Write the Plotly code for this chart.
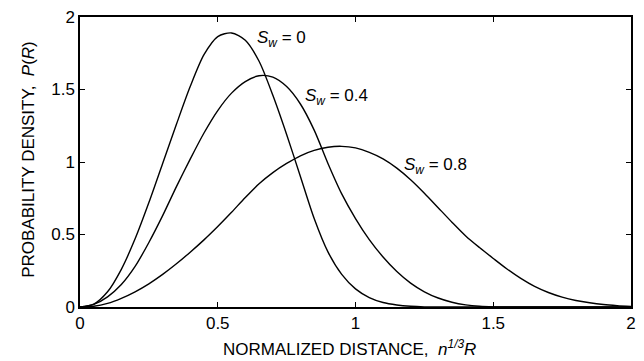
import plotly.graph_objects as go

# Normalized distance grid (x values)
x_vals = [round(0.05 * i, 2) for i in range(41)]

# Probability density readings for each S_w
p_sw0 = [0, 0.02, 0.105, 0.26, 0.47, 0.72, 0.99, 1.26, 1.52, 1.74, 1.865, 1.89, 1.84,
         1.695, 1.46, 1.19, 0.90, 0.61, 0.38, 0.225, 0.125, 0.065, 0.031, 0.014, 0.005,
         0.001, 0, 0, 0, 0, 0, 0, 0, 0, 0, 0, 0, 0, 0, 0, 0]
p_sw04 = [0, 0.018, 0.07, 0.155, 0.28, 0.445, 0.63, 0.83, 1.02, 1.20, 1.355, 1.475, 1.555,
          1.595, 1.585, 1.52, 1.40, 1.22, 0.99, 0.78, 0.61, 0.465, 0.345, 0.245, 0.165,
          0.105, 0.062, 0.033, 0.015, 0.005, 0.001, 0, 0, 0, 0, 0, 0, 0, 0, 0, 0]
p_sw08 = [0, 0.005, 0.025, 0.06, 0.105, 0.16, 0.225, 0.298, 0.378, 0.463, 0.555, 0.653,
          0.755, 0.85, 0.927, 0.99, 1.043, 1.08, 1.102, 1.108, 1.097, 1.067, 1.022, 0.958,
          0.878, 0.785, 0.685, 0.585, 0.49, 0.41, 0.335, 0.262, 0.197, 0.142, 0.10, 0.068,
          0.045, 0.029, 0.017, 0.009, 0.003]

series = [("S_w = 0", p_sw0), ("S_w = 0.4", p_sw04), ("S_w = 0.8", p_sw08)]

# Curve labels: (text, x, y)
labels = [
    ("<i>S</i><sub><i>w</i></sub> = 0", 0.637, 1.85),
    ("<i>S</i><sub><i>w</i></sub> = 0.4", 0.81, 1.45),
    ("<i>S</i><sub><i>w</i></sub> = 0.8", 1.168, 0.975),
]

x_ticks = [0, 0.5, 1, 1.5, 2]
x_ticktext = ["0", "0.5", "1", "1.5", "2"]
y_ticks = [0, 0.5, 1, 1.5, 2]
y_ticktext = ["0", "0.5", "1", "1.5", "2"]

FONT = "Liberation Sans, Arial, Helvetica, sans-serif"

fig = go.Figure()
for name, ys in series:
    fig.add_trace(go.Scatter(
        x=x_vals, y=ys, mode="lines", name=name,
        line=dict(color="black", width=1.4, shape="spline", smoothing=0.8),
        showlegend=False, hoverinfo="skip",
    ))

for text, lx, ly in labels:
    fig.add_annotation(x=lx, y=ly, xref="x", yref="y", text=text, showarrow=False,
                       xanchor="left", yanchor="middle",
                       font=dict(family=FONT, size=17, color="black"))

# Axis titles as annotations for exact placement
fig.add_annotation(x=0.49, y=-0.14, xref="paper", yref="paper",
                   text="NORMALIZED DISTANCE,  <i>n</i><sup><i>1/3</i></sup><i>R</i>",
                   showarrow=False, xanchor="center", yanchor="middle",
                   font=dict(family=FONT, size=17, color="black"))
fig.add_annotation(x=-0.095, y=0.51, xref="paper", yref="paper",
                   text="PROBABILITY DENSITY,  <i>P</i>(<i>R</i>)",
                   showarrow=False, xanchor="center", yanchor="middle", textangle=-90,
                   font=dict(family=FONT, size=17, color="black"))

axis_common = dict(
    showline=True, linecolor="black", linewidth=1.5, mirror="ticks",
    ticks="inside", ticklen=5, tickwidth=1, tickcolor="black",
    showgrid=False, zeroline=False,
    tickfont=dict(family=FONT, size=17, color="black"),
)

fig.update_xaxes(range=[0, 2], tickvals=x_ticks, ticktext=x_ticktext, **axis_common)
fig.update_yaxes(range=[0, 2], tickvals=y_ticks, ticktext=y_ticktext, **axis_common)

fig.update_layout(
    width=644, height=361,
    margin=dict(l=80, r=8, t=16, b=54),
    paper_bgcolor="white", plot_bgcolor="white",
    font=dict(family=FONT, color="black"),
)

fig.write_html("out.html")
